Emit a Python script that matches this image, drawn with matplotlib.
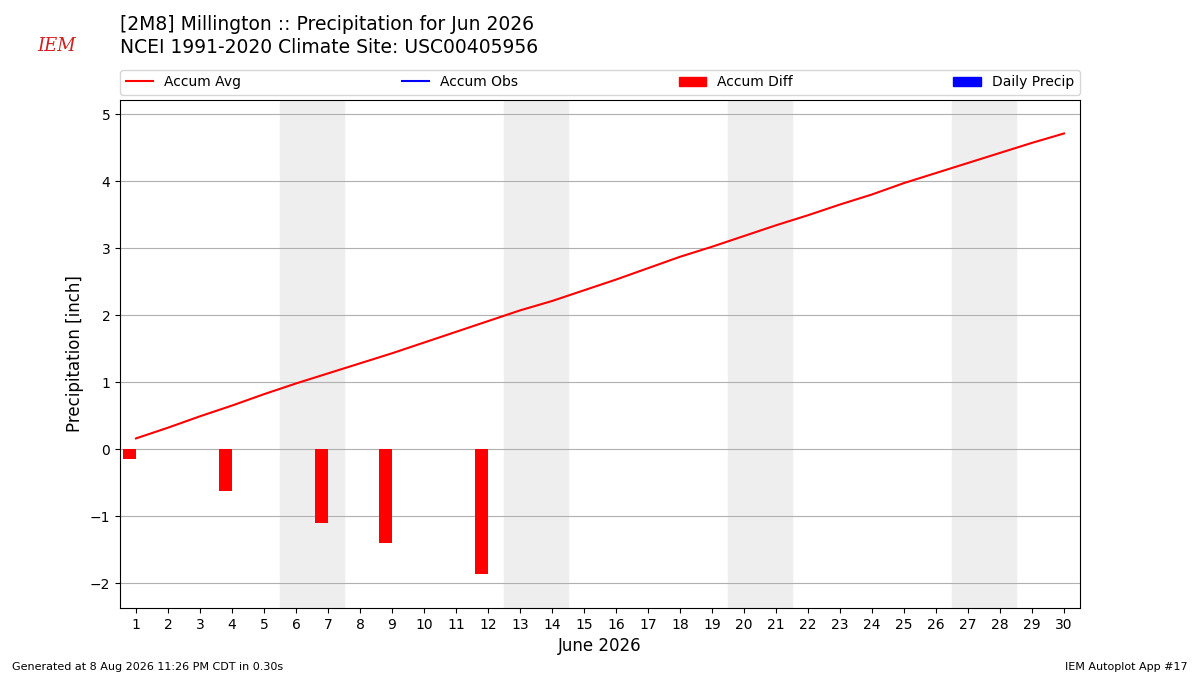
import matplotlib
matplotlib.use("Agg")
import matplotlib.pyplot as plt
from matplotlib.lines import Line2D
from matplotlib.patches import Patch

# data
days = list(range(1, 31))
accum_avg = [0.16, 0.32, 0.49, 0.65, 0.82, 0.98, 1.13, 1.28, 1.43, 1.59,
             1.75, 1.91, 2.07, 2.21, 2.37, 2.53, 2.70, 2.87, 3.02, 3.18,
             3.34, 3.49, 3.65, 3.80, 3.97, 4.12, 4.27, 4.42, 4.57, 4.71]
diff_days = [1, 4, 7, 9, 12]
accum_diff = [-0.145, -0.62, -1.10, -1.40, -1.86]
weekends = [6, 13, 20, 27]

fig = plt.figure(figsize=(12, 6.75), dpi=100)
ax = fig.add_axes([0.1, 0.0993, 0.8, 0.7526])

# weekend shading
for w in weekends:
    ax.axvspan(w - 0.5, w + 1.5, color="#EEEEEE", zorder=0)

ax.bar(diff_days, accum_diff, width=-0.4, align="edge", color="r", zorder=2)
ax.plot(days, accum_avg, color="r", lw=1.5, zorder=3)

ax.set_xlim(0.5, 30.5)
ax.set_ylim(-2.37, 5.21)
ax.set_xticks(days)
ax.set_yticks(range(-2, 6))
ax.set_yticklabels(["\u22122", "\u22121", "0", "1", "2", "3", "4", "5"])
ax.tick_params(labelsize=10)
ax.grid(True, axis="y", color="#b0b0b0", lw=0.8, zorder=1)
ax.set_axisbelow(True)
ax.set_xlabel("June 2026", fontsize=12)
ax.set_ylabel("Precipitation [inch]", fontsize=12)

handles = [Line2D([], [], color="r", lw=1.5),
           Line2D([], [], color="b", lw=1.5),
           Patch(color="r"), Patch(color="b")]
labels = ["Accum Avg", "Accum Obs", "Accum Diff", "Daily Precip"]
ax.legend(handles, labels, bbox_to_anchor=(0, 1.01, 1, 0.1), loc="lower left",
          mode="expand", ncol=4, borderaxespad=0, fontsize=10)

fig.text(0.1, 0.963, "[2M8] Millington :: Precipitation for Jun 2026",
         fontsize=13.5, va="center")
fig.text(0.1, 0.929, "NCEI 1991-2020 Climate Site: USC00405956",
         fontsize=13.5, va="center")

# rough logo
fig.text(0.031, 0.932, "IEM", color="#d02020", fontsize=13, family="serif",
         style="italic", va="center")

fig.text(0.01, 0.008, "Generated at 8 Aug 2026 11:26 PM CDT in 0.30s", fontsize=8)
fig.text(0.99, 0.008, "IEM Autoplot App #17", fontsize=8, ha="right")

fig.savefig("out.png", dpi=100)
